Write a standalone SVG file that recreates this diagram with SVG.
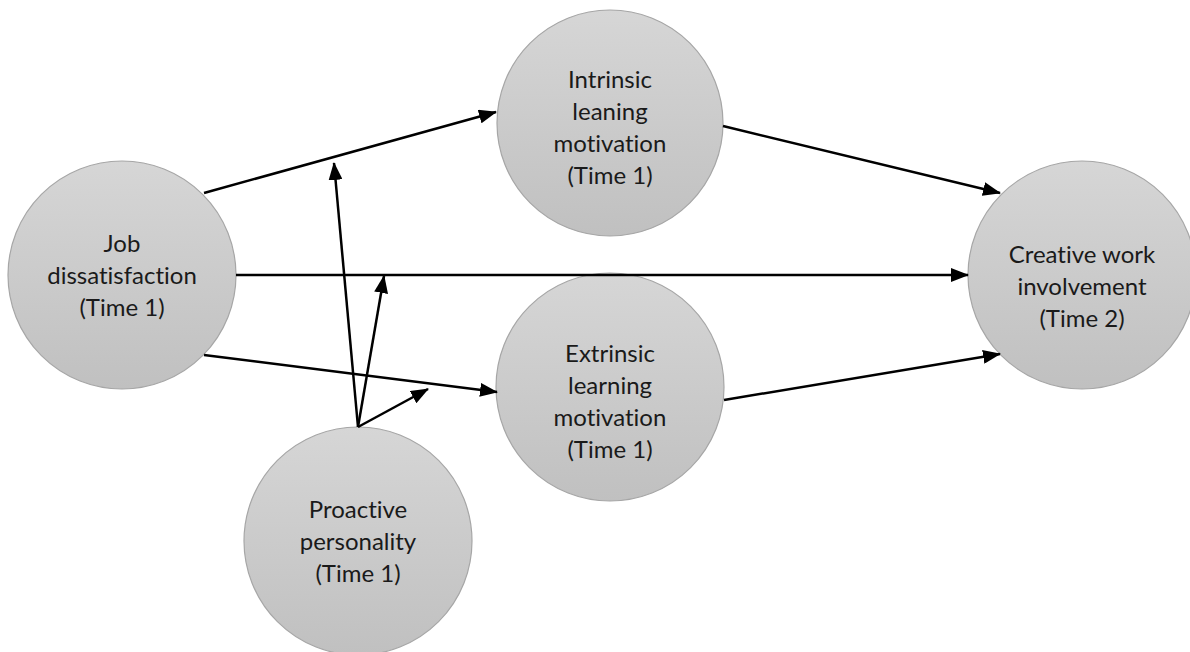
<svg xmlns="http://www.w3.org/2000/svg" width="1190" height="652" viewBox="0 0 1190 652">
<defs>
<linearGradient id="g" x1="0" y1="0" x2="0" y2="1">
<stop offset="0" stop-color="#d6d6d6"/>
<stop offset="1" stop-color="#c0c0c0"/>
</linearGradient>
<marker id="ah" markerUnits="userSpaceOnUse" markerWidth="18" markerHeight="14" refX="17" refY="7" orient="auto">
<path d="M0,0 L18,7 L0,14 Z" fill="#000"/>
</marker>
</defs>
<style>
.n{fill:url(#g);stroke:#a6a6a6;stroke-width:1.2}
.t{font-family:Lato,"Open Sans",sans-serif;font-size:24px;fill:#1a1a1a;text-anchor:middle;font-variant-ligatures:none;font-feature-settings:"liga" 0}
.c{stroke:#000;stroke-width:2.5;fill:none;marker-end:url(#ah)}
</style>
<rect width="1190" height="652" fill="#fff"/>
<g id="job">
<circle class="n" cx="122" cy="275" r="114"/>
<text class="t" x="122" y="252">Job</text>
<text class="t" x="122" y="284">dissatisfaction</text>
<text class="t" x="122" y="316">(Time 1)</text>
</g>
<g id="intrinsic">
<circle class="n" cx="610" cy="123" r="113"/>
<text class="t" x="610" y="88">Intrinsic</text>
<text class="t" x="610" y="120">leaning</text>
<text class="t" x="610" y="152">motivation</text>
<text class="t" x="610" y="184">(Time 1)</text>
</g>
<g id="extrinsic">
<circle class="n" cx="610" cy="387" r="114"/>
<text class="t" x="610" y="362">Extrinsic</text>
<text class="t" x="610" y="394">learning</text>
<text class="t" x="610" y="426">motivation</text>
<text class="t" x="610" y="458">(Time 1)</text>
</g>
<g id="creative">
<circle class="n" cx="1082" cy="275" r="114"/>
<text class="t" x="1082" y="263">Creative work</text>
<text class="t" x="1082" y="295">involvement</text>
<text class="t" x="1082" y="327">(Time 2)</text>
</g>
<g id="proactive">
<circle class="n" cx="358" cy="541" r="114"/>
<text class="t" x="358" y="518">Proactive</text>
<text class="t" x="358" y="550">personality</text>
<text class="t" x="358" y="582">(Time 1)</text>
</g>
<g id="connectors">
<line class="c" x1="204" y1="193" x2="496" y2="112"/>
<line class="c" x1="236" y1="275" x2="968" y2="275"/>
<line class="c" x1="204" y1="355" x2="497" y2="392"/>
<line class="c" x1="723" y1="126" x2="1000" y2="193"/>
<line class="c" x1="724" y1="400" x2="1000" y2="354"/>
<line class="c" x1="358" y1="427" x2="334" y2="163"/>
<line class="c" x1="358" y1="427" x2="384" y2="276"/>
<line class="c" x1="358" y1="427" x2="428" y2="389"/>
</g>
</svg>
